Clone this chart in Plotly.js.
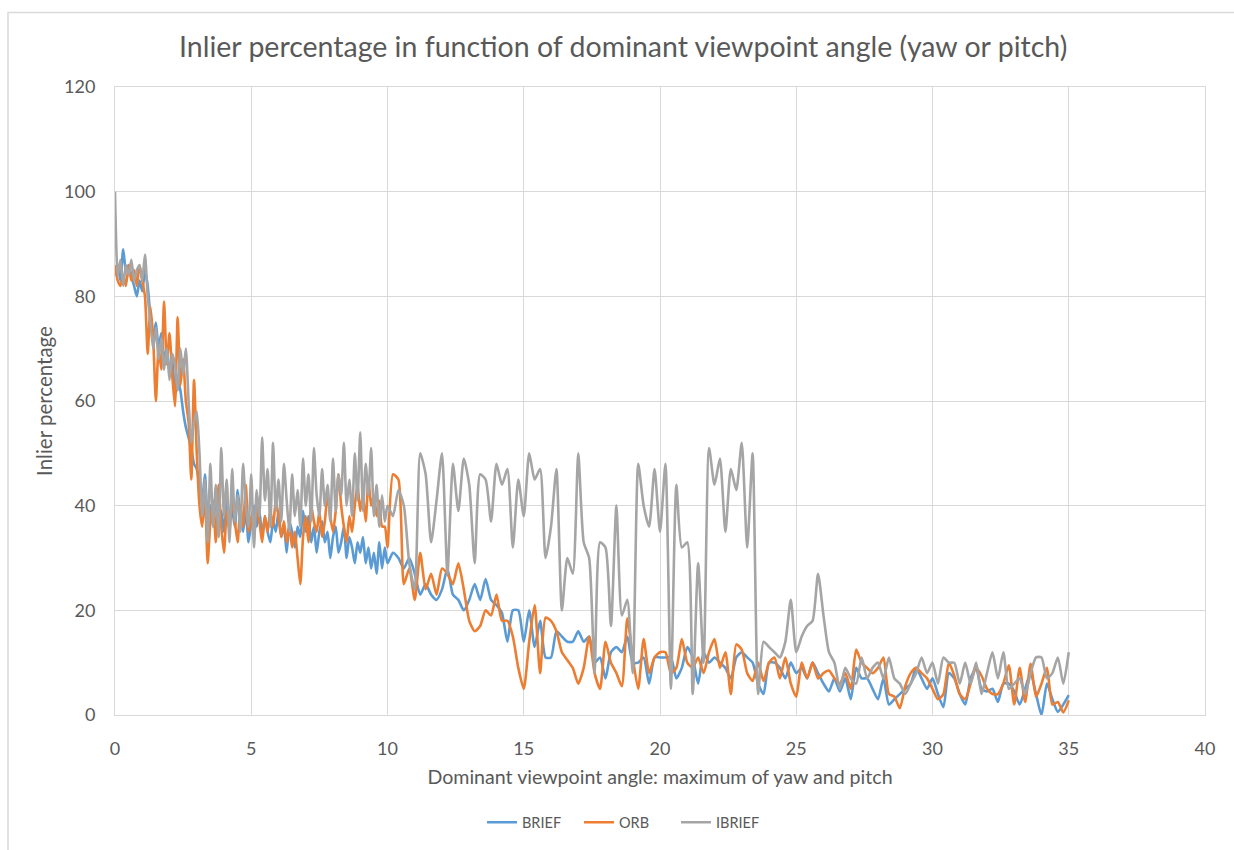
<!DOCTYPE html>
<html>
<head>
<meta charset="utf-8">
<script src="https://cdn.plot.ly/plotly-3.0.1.min.js"></script>
<style>
  html, body { margin: 0; padding: 0; background: #ffffff; }
  #chart { width: 1234px; height: 850px; }
</style>
</head>
<body>
<div id="chart"></div>
<script>
// Dominant viewpoint angle (x) — dense part 0..10, sparser part 10.2..35
const angleDense = [
  0.0,
  0.1, 0.2, 0.3, 0.4, 0.5, 0.6, 0.7, 0.8, 0.9, 1.0,
  1.1, 1.2, 1.3, 1.4, 1.5, 1.6, 1.7, 1.8, 1.9, 2.0,
  2.1, 2.2, 2.3, 2.4, 2.5, 2.6, 2.7, 2.8, 2.9, 3.0,
  3.1, 3.2, 3.3, 3.4, 3.5, 3.6, 3.7, 3.8, 3.9, 4.0,
  4.1, 4.2, 4.3, 4.4, 4.5, 4.6, 4.7, 4.8, 4.9, 5.0,
  5.1, 5.2, 5.3, 5.4, 5.5, 5.6, 5.7, 5.8, 5.9, 6.0,
  6.1, 6.2, 6.3, 6.4, 6.5, 6.6, 6.7, 6.8, 6.9, 7.0,
  7.1, 7.2, 7.3, 7.4, 7.5, 7.6, 7.7, 7.8, 7.9, 8.0,
  8.1, 8.2, 8.3, 8.4, 8.5, 8.6, 8.7, 8.8, 8.9, 9.0,
  9.1, 9.2, 9.3, 9.4, 9.5, 9.6, 9.7, 9.8, 9.9, 10.0
];
const angleSparse = [
  10.2, 10.4, 10.6, 10.8, 11.0,
  11.2, 11.4, 11.6, 11.8, 12.0,
  12.2, 12.4, 12.6, 12.8, 13.0,
  13.2, 13.4, 13.6, 13.8, 14.0,
  14.2, 14.4, 14.6, 14.8, 15.0,
  15.2, 15.4, 15.6, 15.8, 16.0,
  16.2, 16.4, 16.6, 16.8, 17.0,
  17.2, 17.4, 17.6, 17.8, 18.0,
  18.2, 18.4, 18.6, 18.8, 19.0,
  19.2, 19.4, 19.6, 19.8, 20.0,
  20.2, 20.4, 20.6, 20.8, 21.0,
  21.2, 21.4, 21.6, 21.8, 22.0,
  22.2, 22.4, 22.6, 22.8, 23.0,
  23.2, 23.4, 23.6, 23.8, 24.0,
  24.2, 24.4, 24.6, 24.8, 25.0,
  25.2, 25.4, 25.6, 25.8, 26.0,
  26.2, 26.4, 26.6, 26.8, 27.0,
  27.2, 27.4, 27.6, 27.8, 28.0,
  28.2, 28.4, 28.6, 28.8, 29.0,
  29.2, 29.4, 29.6, 29.8, 30.0,
  30.2, 30.4, 30.6, 30.8, 31.0,
  31.2, 31.4, 31.6, 31.8, 32.0,
  32.2, 32.4, 32.6, 32.8, 33.0,
  33.2, 33.4, 33.6, 33.8, 34.0,
  34.2, 34.4, 34.6, 34.8, 35.0
];

// BRIEF inlier percentage
const briefDense = [
  84,
  86, 83, 89, 85, 86, 84, 82, 80, 83, 81,
  85, 82, 76, 72, 75, 70, 73, 68, 70, 66,
  68, 61, 64, 62, 58, 55, 53, 51, 48, 47,
  44, 41, 46, 38, 40, 36, 42, 37, 39, 35,
  41, 37, 39, 36, 43, 38, 35, 39, 33, 37,
  40, 36, 39, 34, 38, 35, 33, 37, 35, 39,
  34, 36, 31, 37, 35, 32, 36, 34, 39, 35,
  38, 33, 36, 31, 35, 37, 33, 35, 30, 34,
  36, 31, 33, 36, 30, 34, 32, 29, 33, 31,
  34, 29, 32, 28, 31, 27, 33, 28, 32, 29
];
const briefSparse = [
  31, 30, 28, 30, 27,
  23, 25, 23, 22, 24,
  28, 23, 22, 20, 22,
  25, 22, 26, 22, 21,
  19.5, 14, 20, 20, 14,
  20, 13, 18, 11, 11,
  16, 15, 14, 14, 16,
  14, 15, 10, 11, 7,
  12, 13, 12, 15, 10,
  10, 11, 6, 11, 11,
  11, 11, 7, 9, 13,
  11, 6, 12, 10, 11,
  10, 9, 7, 11, 12,
  11, 10, 6, 4, 10,
  10, 9, 7, 10, 8,
  9, 7, 10, 8, 6,
  4.5, 7, 4.5, 7, 3,
  9, 7, 7, 5, 3,
  7, 2, 3, 4, 5,
  6, 9, 7, 5, 7,
  4, 1.5, 8, 7, 4,
  2, 7, 9, 5, 4.5,
  5, 2.5, 6, 6, 4.5,
  2, 5, 8, 4, 0,
  6, 3, 0.6, 2, 3.8
];

// ORB inlier percentage
const orbDense = [
  86,
  83, 82, 84, 82, 86, 83, 85, 82, 86, 83,
  80, 69, 78, 72, 60, 70, 66, 79, 67, 73,
  65, 59, 76, 63, 68, 60, 56, 45, 64, 50,
  40, 36, 42, 29, 37, 41, 33, 44, 36, 31,
  39, 35, 42, 37, 33, 40, 36, 44, 35, 38,
  34, 40, 37, 33, 38, 35, 39, 36, 41, 38,
  34, 37, 33, 36, 32, 35, 30, 25, 34, 38,
  33, 40, 37, 35, 39, 34, 37, 42, 38, 35,
  39, 46, 40, 36, 33, 38, 35, 40, 44, 39,
  42, 37, 45, 40, 42, 38, 41, 36, 36, 32
];
const orbSparse = [
  46, 45, 25, 28, 22,
  31, 24, 27, 23, 28,
  27, 25, 29, 24, 18,
  16, 17, 20, 19, 23,
  18, 18, 15, 9, 5,
  14, 21, 8, 18.6, 18,
  16, 12, 10.5, 9, 6,
  9, 15, 8, 5, 14,
  10, 8, 5.5, 18.5, 11,
  5, 14.5, 8, 11, 12,
  12, 8, 9, 14.5, 10,
  9, 11, 8, 12, 14.5,
  9, 12, 4, 13.5, 12.5,
  8, 6.5, 10, 6.5, 10,
  11, 7, 11, 6, 3.5,
  10, 7, 10, 7, 8,
  8.5, 7, 6, 8, 5,
  12.5, 10, 9, 8, 9,
  11, 4, 3.5, 1.3, 5.5,
  8, 9, 8, 7, 5,
  3, 4, 10, 7.5, 4,
  3, 6, 9, 7.5, 5,
  4, 4, 6, 9.5, 2,
  9, 2.5, 9.8, 3.5, 6,
  9, 2, 2.5, 0.5, 2.8
];

// IBRIEF inlier percentage
const ibriefDense = [
  100,
  84, 87, 82, 86, 84, 87, 83, 85, 86, 83,
  88, 80, 75, 70, 74, 68, 72, 66, 70, 64,
  69, 67, 62, 70, 65, 70, 60, 52, 56, 58,
  50, 38, 45, 33, 48, 36, 44, 34, 51, 38,
  45, 33, 47, 37, 42, 35, 48, 40, 36, 46,
  32, 43, 38, 53, 41, 47, 36, 52, 39, 45,
  37, 48, 41, 35, 46, 38, 43, 36, 49, 40,
  46, 37, 51, 42, 38, 47, 40, 44, 37, 49,
  39, 46, 42, 52, 40, 45, 38, 50, 41, 54,
  39, 48, 42, 51, 38, 44, 36, 42, 37, 40
];
const ibriefSparse = [
  38, 43, 40, 29, 24,
  50, 46, 33, 41, 50,
  27, 48, 39, 49, 44,
  29, 46, 45, 37, 48,
  44, 47, 32, 45, 38,
  50, 45, 47, 30, 36,
  47, 20, 30, 27, 50,
  33, 30, 8, 33, 32,
  17, 40, 19, 22, 8,
  48, 40, 36, 47, 35,
  48, 5, 44, 32, 33,
  4, 29, 10, 51, 44,
  49, 35, 47, 43, 52,
  32, 50, 4, 14, 13,
  12, 11, 14, 22, 12,
  15, 17, 18, 27, 19,
  12, 10, 5, 9, 7,
  6, 11, 7, 9, 10,
  7, 11, 7, 6, 4,
  6, 8, 11, 8, 10,
  6, 11, 10, 10, 6,
  10, 6, 10, 4, 8,
  12, 7, 12, 5, 6,
  7, 4, 8, 11, 11,
  7, 8, 11, 6, 12
];

const seriesNames = ["BRIEF", "ORB", "IBRIEF"];
const seriesColors = ["#5B9BD5", "#ED7D31", "#A5A5A5"];

const angles = angleDense.concat(angleSparse);
const seriesValues = [
  briefDense.concat(briefSparse),
  orbDense.concat(orbSparse),
  ibriefDense.concat(ibriefSparse)
];

const FONT = "Lato, 'Open Sans', 'Noto Sans', sans-serif";
const TXT = "#595959";

const traces = seriesNames.map((name, i) => ({
  type: "scatter",
  mode: "lines",
  name: name,
  x: angles,
  y: seriesValues[i],
  line: { color: seriesColors[i], width: 2.6, shape: "spline", smoothing: 0.6 },
  hoverinfo: "x+y+name"
}));

const layout = {
  width: 1234,
  height: 850,
  paper_bgcolor: "#ffffff",
  plot_bgcolor: "#ffffff",
  margin: { l: 115, r: 29, t: 87, b: 130, pad: 0 },
  font: { family: FONT, color: TXT },
  title: {
    text: "Inlier percentage in function of dominant viewpoint angle (yaw or pitch)",
    font: { family: FONT, size: 28.5, color: TXT },
    xref: "container", x: 0.505, xanchor: "center",
    yref: "container", y: 1 - 47 / 850, yanchor: "middle"
  },
  xaxis: {
    range: [0, 40],
    dtick: 5,
    tick0: 0,
    showgrid: true,
    gridcolor: "#d9d9d9",
    gridwidth: 1,
    zeroline: false,
    showline: true,
    mirror: true,
    linecolor: "#d9d9d9",
    linewidth: 1,
    ticks: "outside",
    ticklen: 17,
    tickcolor: "rgba(0,0,0,0)",
    tickfont: { family: FONT, size: 18, color: TXT },
    title: {
      text: "Dominant viewpoint angle: maximum of yaw and pitch",
      font: { family: FONT, size: 19.6, color: TXT },
      standoff: 12
    },
    fixedrange: true
  },
  yaxis: {
    range: [0, 120],
    dtick: 20,
    tick0: 0,
    showgrid: true,
    gridcolor: "#d9d9d9",
    gridwidth: 1,
    zeroline: false,
    showline: true,
    mirror: true,
    linecolor: "#d9d9d9",
    linewidth: 1,
    ticks: "outside",
    ticklen: 15,
    tickcolor: "rgba(0,0,0,0)",
    tickfont: { family: FONT, size: 18, color: TXT },
    title: {
      text: "Inlier percentage",
      font: { family: FONT, size: 20.5, color: TXT },
      standoff: 5
    },
    fixedrange: true
  },
  showlegend: true,
  legend: {
    orientation: "h",
    x: (482 - 115) / 1090, xanchor: "left",
    y: -0.171, yanchor: "middle",
    font: { family: FONT, size: 14.5, color: TXT },
    itemwidth: 30,
    entrywidth: 52,
    entrywidthmode: "pixels",
    tracegroupgap: 0,
    bgcolor: "rgba(0,0,0,0)"
  },
  shapes: [{
    type: "rect",
    xref: "paper", yref: "paper",
    x0: (8 - 115) / 1090, x1: 1.3,
    y0: -0.5, y1: 1 + (87 - 12) / 633,
    line: { color: "#d9d9d9", width: 1.5 },
    fillcolor: "rgba(0,0,0,0)",
    layer: "below"
  }]
};

Plotly.newPlot("chart", traces, layout, { displayModeBar: false, staticPlot: true });
</script>
</body>
</html>
